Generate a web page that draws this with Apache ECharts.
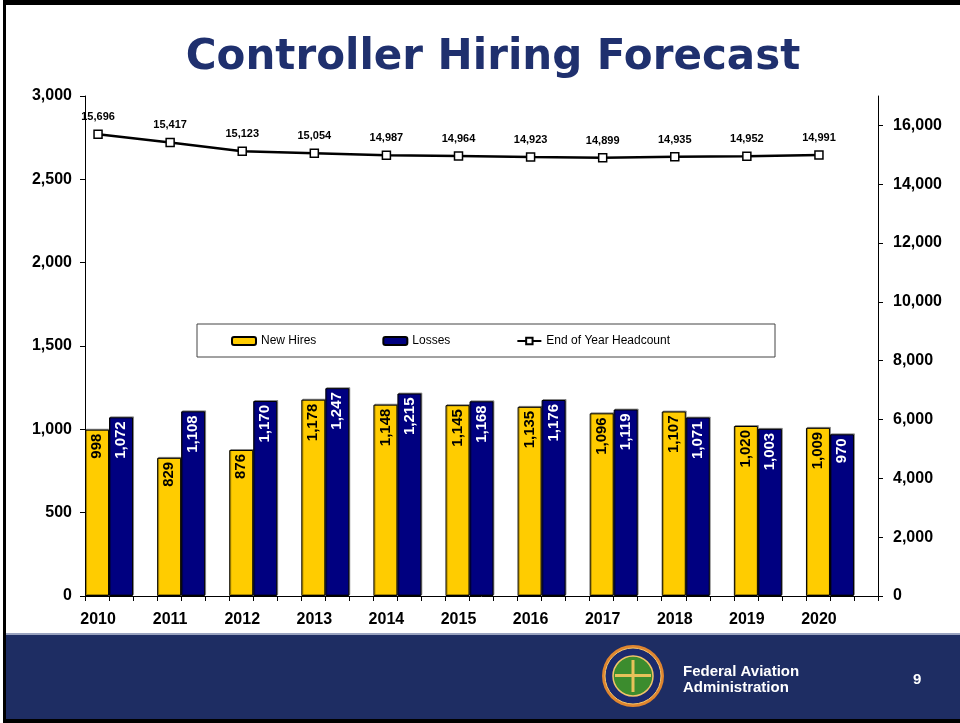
<!DOCTYPE html>
<html>
<head>
<meta charset="utf-8">
<script src="https://cdn.jsdelivr.net/npm/echarts@6/dist/echarts.min.js"></script>
<style>
html,body{margin:0;padding:0;background:#fff;}
#chart{width:960px;height:723px;}
</style>
</head>
<body>
<div id="chart"></div>
<script>
const years = ['2010','2011','2012','2013','2014','2015','2016','2017','2018','2019','2020'];
const newHires = [998, 829, 876, 1178, 1148, 1145, 1135, 1096, 1107, 1020, 1009];
const losses = [1072, 1108, 1170, 1247, 1215, 1168, 1176, 1119, 1071, 1003, 970];
const headcount = [15696, 15417, 15123, 15054, 14987, 14964, 14923, 14899, 14935, 14952, 14991];
const leftTicks = [0, 500, 1000, 1500, 2000, 2500, 3000];
const rightTicks = [0, 2000, 4000, 6000, 8000, 10000, 12000, 14000, 16000];

const FONT = '"Liberation Sans", Arial, sans-serif';
const fmt = v => Number(v).toLocaleString('en-US');

const chart = echarts.init(document.getElementById('chart'), null, {renderer: 'canvas'});

const option = {
  backgroundColor: '#ffffff',
  animation: false,
  textStyle: {fontFamily: FONT},
  title: {
    text: 'Controller Hiring Forecast',
    left: 488, top: 32, textAlign: 'center',
    textStyle: {fontFamily: '"DejaVu Sans", Verdana, sans-serif', fontWeight: 'bold', fontSize: 42, color: '#1F306E'}
  },
  legend: {
    data: ['New Hires', 'Losses', 'End of Year Headcount'],
    left: 231, top: 335,
    itemWidth: 24, itemHeight: 8, itemGap: 66,
    textStyle: {fontFamily: FONT, fontSize: 12, color: '#000'},
    padding: 0
  },
  grid: [
    {left: 85, right: 82, top: 96, bottom: 127},
    {left: 62, right: 105, top: 96, bottom: 127}
  ],
  xAxis: [
    {type: 'category', gridIndex: 0, data: years, boundaryGap: true,
     axisLine: {show: true, lineStyle: {color: '#000', width: 1}},
     axisTick: {show: false}, axisLabel: {show: false}, splitLine: {show: false}},
    {type: 'value', gridIndex: 0, min: 0, max: years.length * 3, interval: 1, position: 'bottom',
     axisLine: {show: false}, axisTick: {show: true, inside: false, length: 5, lineStyle: {color: '#000'}},
     axisLabel: {show: false}, splitLine: {show: false}},
    {type: 'category', gridIndex: 1, data: years, boundaryGap: true,
     axisLine: {show: false}, axisTick: {show: false}, splitLine: {show: false},
     axisLabel: {show: true, margin: 16, fontFamily: FONT, fontWeight: 'bold', fontSize: 16, color: '#000'}}
  ],
  yAxis: [
    {type: 'value', gridIndex: 0, min: 0, max: 3000, interval: 500, position: 'left',
     axisLine: {show: true, lineStyle: {color: '#000', width: 1}},
     axisTick: {show: true, length: 5, lineStyle: {color: '#000'}, customValues: leftTicks},
     axisLabel: {margin: 13, fontFamily: FONT, fontWeight: 'bold', fontSize: 16, color: '#000', formatter: fmt, customValues: leftTicks},
     splitLine: {show: false}},
    {type: 'value', gridIndex: 0, min: 0, max: 17000, interval: 2000, position: 'right',
     axisLine: {show: true, lineStyle: {color: '#000', width: 1}},
     axisTick: {show: true, length: 5, lineStyle: {color: '#000'}, customValues: rightTicks},
     axisLabel: {margin: 15, fontFamily: FONT, fontWeight: 'bold', fontSize: 16, color: '#000', formatter: fmt, customValues: rightTicks},
     splitLine: {show: false}},
    {type: 'value', gridIndex: 1, min: 0, max: 17000, show: false, splitLine: {show: false}}
  ],
  series: [
    {name: 'New Hires', type: 'bar', xAxisIndex: 0, yAxisIndex: 0, data: newHires,
     barWidth: 24, barGap: '0%', barCategoryGap: '0%',
     itemStyle: {color: '#FFCC00', borderColor: '#000', borderWidth: 1,
                 shadowColor: 'rgba(0,0,0,0.35)', shadowOffsetX: 1, shadowOffsetY: -1, shadowBlur: 0},
     label: {show: true, position: 'insideTop', rotate: 90, align: 'right', verticalAlign: 'middle', distance: 4,
             fontFamily: FONT, fontWeight: 'bold', fontSize: 15, color: '#000', formatter: p => fmt(p.value)}},
    {name: 'Losses', type: 'bar', xAxisIndex: 0, yAxisIndex: 0, data: losses,
     barWidth: 24, barGap: '0%',
     itemStyle: {color: '#000080', borderColor: '#000', borderWidth: 1,
                 shadowColor: 'rgba(0,0,0,0.35)', shadowOffsetX: 1, shadowOffsetY: -1, shadowBlur: 0},
     label: {show: true, position: 'insideTop', rotate: 90, align: 'right', verticalAlign: 'middle', distance: 4,
             fontFamily: FONT, fontWeight: 'bold', fontSize: 15, color: '#fff', formatter: p => fmt(p.value)}},
    {name: 'spacer', type: 'bar', xAxisIndex: 0, yAxisIndex: 0, data: [],
     barWidth: 24, barGap: '0%', itemStyle: {color: 'transparent'}, silent: true},
    {name: 'End of Year Headcount', type: 'line', xAxisIndex: 2, yAxisIndex: 2, data: headcount,
     z: 5, symbol: 'rect', symbolSize: 8, showAllSymbol: true,
     lineStyle: {color: '#000', width: 2.5},
     itemStyle: {color: '#ffffff', borderColor: '#000', borderWidth: 1.5},
     label: {show: true, position: 'top', distance: 7, fontFamily: FONT, fontWeight: 'bold', fontSize: 11, color: '#000',
             formatter: p => fmt(p.value)}}
  ],
  graphic: [
    {type: 'rect', z: -1, shape: {x: 197, y: 324, width: 578, height: 33}, style: {fill: '#fff', stroke: '#444', lineWidth: 1}},
    {type: 'rect', z: 1, shape: {x: 0, y: 633, width: 960, height: 2}, style: {fill: '#9aa3c0'}},
    {type: 'rect', z: 1, shape: {x: 0, y: 635, width: 960, height: 85}, style: {fill: '#1E2D63'}},
    {type: 'rect', z: 2, shape: {x: 0, y: 0, width: 960, height: 5}, style: {fill: '#000'}},
    {type: 'rect', z: 2, shape: {x: 0, y: 0, width: 6, height: 723}, style: {fill: '#000'}},
    {type: 'rect', z: 2, shape: {x: 0, y: 719, width: 960, height: 4}, style: {fill: '#000'}},
    {type: 'rect', z: 2, shape: {x: 0, y: 0, width: 3, height: 723}, style: {fill: '#fff'}},
    {type: 'circle', z: 3, shape: {cx: 633, cy: 676, r: 31}, style: {fill: '#E0852E'}},
    {type: 'circle', z: 3, shape: {cx: 633, cy: 676, r: 28}, style: {fill: '#1B2A6E', stroke: '#F2C46A', lineWidth: 1}},
    {type: 'circle', z: 3, shape: {cx: 633, cy: 676, r: 20}, style: {fill: '#3C8C2E', stroke: '#F2C46A', lineWidth: 1.5}},
    {type: 'rect', z: 4, shape: {x: 615, y: 674, width: 36, height: 3}, style: {fill: '#E8C25A'}},
    {type: 'rect', z: 4, shape: {x: 631.5, y: 660, width: 3, height: 32}, style: {fill: '#E8C25A'}},
    {type: 'text', z: 4, left: 683, top: 664, style: {text: 'Federal Aviation\nAdministration', fill: '#fff',
      font: 'bold 15px "Liberation Sans", Arial, sans-serif', lineHeight: 16}},
    {type: 'text', z: 4, left: 913, top: 672, style: {text: '9', fill: '#fff',
      font: 'bold 15px "Liberation Sans", Arial, sans-serif'}}
  ]
};
chart.setOption(option);
</script>
</body>
</html>
